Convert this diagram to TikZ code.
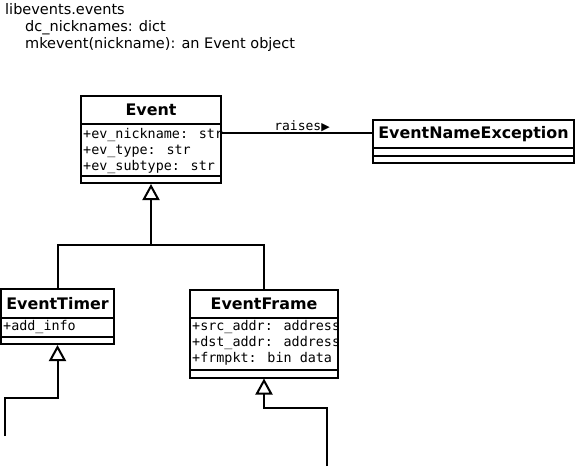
\documentclass[tikz,border=0pt]{standalone}
\usepackage{fontspec}
\setmainfont{DejaVu Sans}
\newfontfamily\monof{DejaVu Sans Mono}
\usetikzlibrary{arrows.meta}
\tikzset{
  classbox/.style={draw, line width=2pt, rectangle, inner sep=0pt, fill=white},
  sepline/.style={line width=2pt},
  titletext/.style={anchor=base, inner sep=0pt, font=\fontsize{15.9}{18}\selectfont\bfseries},
  attrtext/.style={anchor=base west, inner sep=0pt, font=\monof\fontsize{13.4}{16}\selectfont},
  headtext/.style={anchor=base west, inner sep=0pt, font=\fontsize{14.5}{17}\selectfont},
  conn/.style={line width=2pt},
  inh/.style={line width=2pt, -{Triangle[open, length=16pt, width=17pt, fill=white]}},
}
\begin{document}
\begin{tikzpicture}[x=1pt, y=-1pt]
\useasboundingbox (0,0) rectangle (575,466);

% module header
\node[headtext] (h1) at (5,14) {libevents.events};
\node[headtext] (h2) at (25,31) {dc\_nicknames: dict};
\node[headtext] (h3) at (25,48) {mkevent(nickname): an Event object};

% Event
\node[classbox, minimum width=140pt, minimum height=87pt] (event) at (151,139.5) {};
\draw[sepline] (event.west |- 0,123.5) -- (event.east |- 0,123.5);
\draw[sepline] (event.west |- 0,175.5) -- (event.east |- 0,175.5);
\node[titletext] (eventt) at (151,115) {Event};
\node[attrtext] (ea1) at (83,138) {+ev\_nickname: str};
\node[attrtext] (ea2) at (83,154) {+ev\_type: str};
\node[attrtext] (ea3) at (83,170) {+ev\_subtype: str};

% EventNameException
\node[classbox, minimum width=201pt, minimum height=43pt] (ene) at (473.5,141.5) {};
\draw[sepline] (ene.west |- 0,147.5) -- (ene.east |- 0,147.5);
\draw[sepline] (ene.west |- 0,155.5) -- (ene.east |- 0,155.5);
\node[titletext] (enet) at (473.5,138.5) {EventNameException};

% EventTimer
\node[classbox, minimum width=113pt, minimum height=55pt] (timer) at (57.5,316.5) {};
\draw[sepline] (timer.west |- 0,317.5) -- (timer.east |- 0,317.5);
\draw[sepline] (timer.west |- 0,336.5) -- (timer.east |- 0,336.5);
\node[titletext] (timert) at (57.5,309) {EventTimer};
\node[attrtext] (ta1) at (3,330.5) {+add\_info};

% EventFrame
\node[classbox, minimum width=148pt, minimum height=88pt] (frame) at (264,333.5) {};
\draw[sepline] (frame.west |- 0,318) -- (frame.east |- 0,318);
\draw[sepline] (frame.west |- 0,369.5) -- (frame.east |- 0,369.5);
\node[titletext] (framet) at (264,309.5) {EventFrame};
\node[attrtext] (fa1) at (192,330.5) {+src\_addr: address};
\node[attrtext] (fa2) at (192,346.5) {+dst\_addr: address};
\node[attrtext] (fa3) at (192,362.5) {+frmpkt: bin data};

% raises association
\draw[conn] (event.east |- 0,133) -- (ene.west |- 0,133);
\node[anchor=base, inner sep=0pt, font=\monof\fontsize{13}{15}\selectfont] (raises) at (302,130) {raises{\fontsize{11}{12}\selectfont\rmfamily ▶}};

% inheritance Event <- EventTimer / EventFrame
\coordinate (j1) at (151,244.5);
\draw[conn] (timer.north) |- (j1) -| (frame.north);
\draw[inh] (j1) -- (event.south);

% inheritance into EventTimer
\coordinate (t1) at (5,436);
\draw[inh] (t1) |- (57.5,397.5) -- (timer.south);

% inheritance into EventFrame
\coordinate (f1) at (327,466);
\draw[inh] (f1) |- (264,408) -- (frame.south);
\end{tikzpicture}
\end{document}
